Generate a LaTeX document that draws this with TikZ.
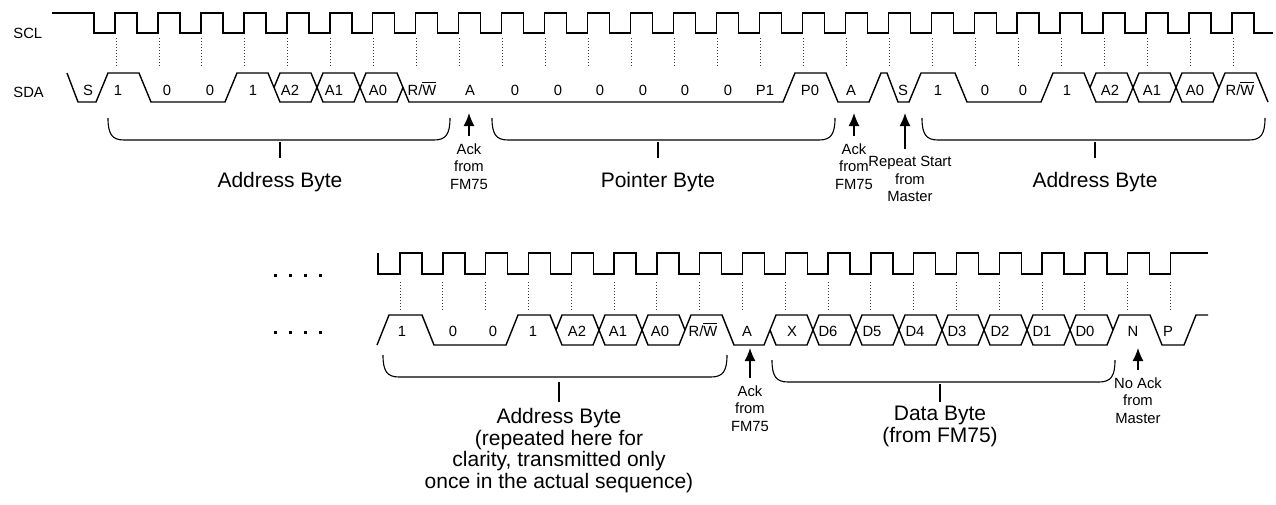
\documentclass[tikz,border=0pt]{standalone}
\usepackage{fontspec}
\setmainfont{Liberation Sans}
\usetikzlibrary{arrows.meta,positioning,calc}
\newcommand{\rwbit}{R/$\overline{\mbox{W}}$}

\begin{document}
\begin{tikzpicture}
[x=0.5pt,y=-0.5pt,
wave/.style={line width=.7pt},
guide/.style={line width=.45pt,dash pattern=on .5pt off 1pt,black!75},
brace/.style={line width=.55pt},
arr/.style={line width=.65pt,-{Latex[length=6.5pt,width=5.5pt]},shorten <=1.5pt},
bit/.style={font=\fontsize{7.4}{8.75}\selectfont,anchor=base,inner sep=0pt},
note/.style={font=\fontsize{7.4}{8.75}\selectfont,align=center,anchor=north,inner sep=2pt},
title/.style={font=\fontsize{10.5}{10.8}\selectfont,align=center,anchor=north,inner sep=0pt}]
\useasboundingbox (0,0) rectangle (1276,504);
\node[bit,anchor=base west] (scl) at (13,38) {SCL};
\node[bit,anchor=base west] (sda) at (13,97) {SDA};
\draw[wave] (52,13) -- (94,13) -- (94,33) \foreach \k in {0,...,26} {-- ({115+42.96*\k},33) -- ++(0,-20) -- ++(22,0) -- ++(0,20)} -- (1273,33);
\foreach \k in {0,...,26} \draw[guide] ({116+42.96*\k},38) -- ++(0,30);
\draw[wave] (67,73) -- (78,102) -- (96,102) -- (108,73) -- (139,73) -- (151,102) -- (225,102) -- (237,73) -- (268,73) -- (280,102) -- (311,102) -- (323,73) -- (354,73) -- (366,102) -- (397,102) -- (403,87.5);
\draw[wave] (274,87.5) -- (280,73) -- (311,73) -- (323,102) -- (354,102) -- (366,73) -- (397,73) -- (409,102) -- (783,102) -- (795,73) -- (826,73) -- (838,102) -- (869,102) -- (881,73) -- (887,73) -- (898,102) -- (909,102) -- (921,73) -- (955,73) -- (967,102) -- (1041,102) -- (1053,73) -- (1084,73) -- (1096,102) -- (1127,102) -- (1139,73) -- (1170,73) -- (1182,102) -- (1213,102) -- (1225,73) -- (1256,73) -- (1268,102);
\draw[wave] (1090,87.5) -- (1096,73) -- (1127,73) -- (1139,102) -- (1170,102) -- (1182,73) -- (1213,73) -- (1219,87.5);
\foreach \x/\t [count=\i] in {88/S,118/1,167/0,210/0,253/1,290/A2,334/A1,378/A0,422/\rwbit,470/A,515/0,558/0,600/0,643/0,685/0,728/0,765/P1,810/P0,851/A,903/S,938/1,985/0,1023/0,1067/1,1110/A2,1152/A1,1195/A0,1240/\rwbit}
  \node[bit] (u\i) at (\x,95) {\t};
\foreach \x in {275,290,305,320} {
  \fill (\x-1.5,273.5) rectangle ++(3,3);
  \fill (\x-1.5,330.5) rectangle ++(3,3);
}
\draw[wave] (378,253) -- (378,274) \foreach \k in {0,...,17} {-- ({400+42.8*\k},274) -- ++(0,-21) -- ++(22,0) -- ++(0,21)} -- (1170.4,274) -- (1170.4,253) -- (1208,253);
\foreach \k in {0,...,18} \draw[guide] ({400+42.8*\k},282) -- ++(0,30);
\draw[wave] (377,345) -- (389,315) -- (422,315) -- (434,345) -- (506,345) -- (518,315) -- (550,315) -- (562,345) -- (593,345) -- (605,315) -- (636,315) -- (648,345) -- (679,345) -- (691,315) -- (722,315) -- (734,345) -- (764,345) -- (776,315) -- (807,315) -- (819,345) -- (850,345) -- (862,315) -- (893,315) -- (905,345) -- (936,345) -- (948,315) -- (978,315) -- (990,345) -- (1021,345) -- (1033,315) -- (1064,315) -- (1076,345) -- (1107,345) -- (1119,315) -- (1150,315) -- (1162,345) -- (1184,345) -- (1196,315) -- (1208,315);
\draw[wave] (556,330) -- (562,315) -- (593,315) -- (605,345) -- (636,345) -- (648,315) -- (679,315) -- (685,330);
\draw[wave] (770,330) -- (776,345) -- (807,345) -- (819,315) -- (850,315) -- (862,345) -- (893,345) -- (905,315) -- (936,315) -- (948,345) -- (978,345) -- (990,315) -- (1021,315) -- (1033,345) -- (1064,345) -- (1076,315) -- (1107,315) -- (1113,330);
\foreach \x/\t [count=\i] in {402/1,453/0,493/0,533/1,577/A2,618/A1,660/A0,703/\rwbit,747/A,792/X,828/D6,872/D5,915/D4,957/D3,1000/D2,1042/D1,1085/D0,1133/N,1168/P}
  \node[bit] (l\i) at (\x,336) {\t};
\foreach \a/\b/\t/\u in {108/450/118/140,492/835/118/140,922/1265/118/140,383/727/355/377,772/1115/360/382}
  \draw[brace] (\a,\t) .. controls (\a,\u-6) and (\a+4,\u) .. (\a+16,\u) -- (\b-16,\u) .. controls (\b-4,\u) and (\b,\u-6) .. (\b,\t);
\node[title] (adr1) at (280,172) {Address Byte};
\node[title] (ptr) at (658,172) {Pointer Byte};
\node[title] (adr2) at (1095,172) {Address Byte};
\node[title] (adr3) at (559,408) {Address Byte\\(repeated here for\\clarity, transmitted only\\once in the actual sequence)};
\node[title] (dat) at (940,406) {Data Byte\\(from FM75)};
\coordinate (t1) at (280,142);
\coordinate (t2) at (658,142);
\coordinate (t3) at (1095,142);
\coordinate (t4) at (559,382);
\coordinate (t5) at (940,384);
\draw[brace,shorten >=7pt] (t1) -- (adr1);
\draw[brace,shorten >=7pt] (t2) -- (ptr);
\draw[brace,shorten >=7pt] (t3) -- (adr2);
\draw[brace,shorten >=3pt] (t4) -- (adr3);
\draw[brace,shorten >=2pt] (t5) -- (dat);
\node[note] (ack1) at (469,139) {Ack\\from\\FM75};
\node[note] (ack2) at (854,139) {Ack\\from\\FM75};
\node[note] (rs) at (910,152) {Repeat Start\\from\\Master};
\node[note] (ack3) at (750,381) {Ack\\from\\FM75};
\node[note] (nack) at (1138,373) {No Ack\\from\\Master};
\coordinate (ack1tip) at (469,113);
\coordinate (ack2tip) at (854,113);
\coordinate (rstip) at (905,113);
\coordinate (ack3tip) at (750,348);
\coordinate (nacktip) at (1138,348);
\draw[arr] (ack1) -- (ack1tip);
\draw[arr] (ack2) -- (ack2tip);
\draw[arr] (rs.north -| rstip) -- (rstip);
\draw[arr] (ack3) -- (ack3tip);
\draw[arr] (nack) -- (nacktip);
\end{tikzpicture}
\end{document}
